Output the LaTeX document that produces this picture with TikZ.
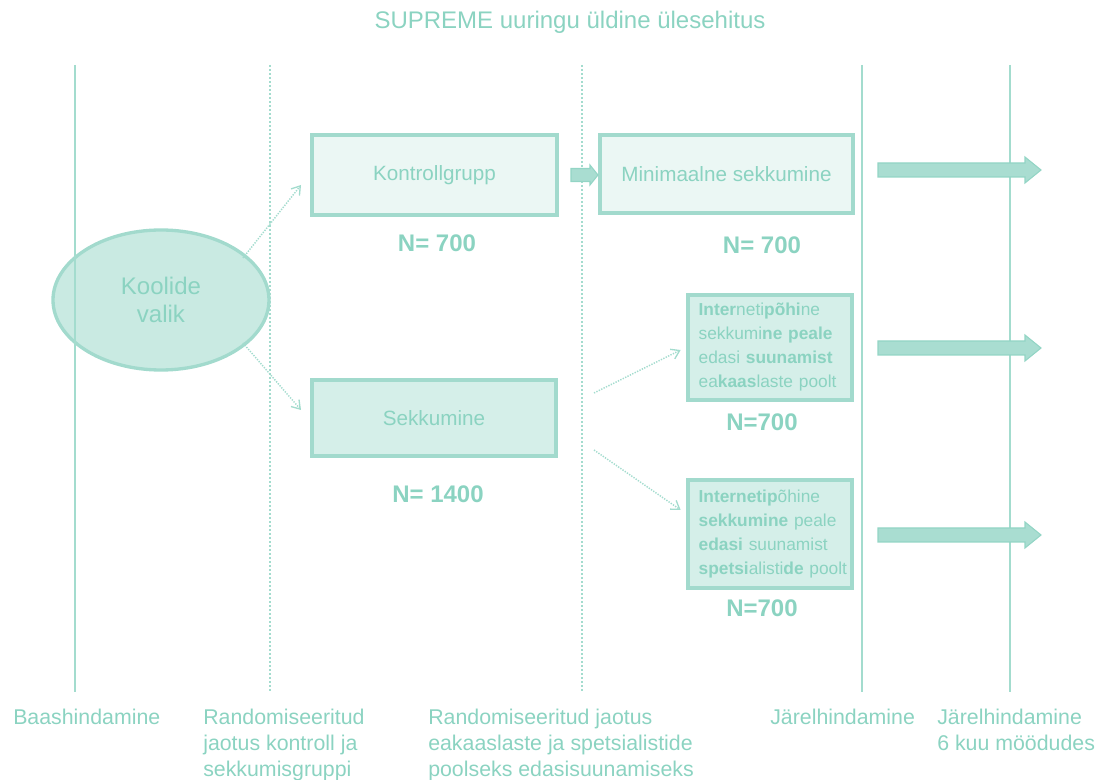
\documentclass[tikz,border=0pt]{standalone}
\usepackage{fontspec}
\setmainfont{Liberation Sans}
\usetikzlibrary{arrows.meta,shapes.geometric,calc}
\definecolor{tltext}{HTML}{8BD3C1}
\definecolor{tlline}{HTML}{A3DCCE}
\definecolor{tlborder}{HTML}{A2DACD}
\definecolor{fillA}{HTML}{EBF7F4}
\definecolor{fillB}{HTML}{D5EFE9}
\definecolor{fillE}{HTML}{C9EAE2}
\definecolor{arrfill}{HTML}{A9DDD1}
\definecolor{arrdraw}{HTML}{93D5C5}
\tikzset{
  vsolid/.style={draw=tlline, line width=2pt},
  vthin/.style={draw=tlline, line width=1.2pt},
  vdot/.style={draw=tlline, line width=1.8pt, dash pattern=on 1.6pt off 1.4pt},
  boxsty/.style={draw=tlborder, line width=3pt, text=tltext, inner sep=0pt,
    font=\fontsize{15.5}{19}\selectfont},
  smallbox/.style={draw=tlborder, line width=3.5pt, fill=fillB, text=tltext,
    align=left, text width=107pt, inner xsep=8pt, inner ysep=0pt,
    minimum width=123pt, font=\fontsize{13}{18}\selectfont},
  nlab/.style={text=tltext, font=\fontsize{18}{20}\selectfont\bfseries, inner sep=0pt},
  blab/.style={text=tltext, font=\fontsize{16}{19.5}\selectfont, align=left,
    anchor=north west, inner sep=0pt},
  conn/.style={draw=tlline, line width=1.1pt, dash pattern=on 1pt off 1pt,
    -{Straight Barb[length=6pt,width=8pt,line width=1pt]}},
  blockarrow/.style={fill=arrfill, draw=arrdraw, line width=0.8pt},
  bigarrow/.pic={\path[blockarrow] (0,-7) -- (147,-7) -- (147,-13) -- (163,0)
    -- (147,13) -- (147,7) -- (0,7) -- cycle;},
  smallarrow/.pic={\path[blockarrow] (0,-6.5) -- (19,-6.5) -- (19,-10) -- (27,0)
    -- (19,10) -- (19,6.5) -- (0,6.5) -- cycle;},
}
\begin{document}
\begin{tikzpicture}[x=0.75pt,y=-0.75pt]
\useasboundingbox (0,0) rectangle (1097,780);

% title
\node[text=tltext, font=\fontsize{18}{20}\selectfont, inner sep=0pt] (title) at (570,22)
  {SUPREME uuringu üldine ülesehitus};

% vertical lines
\coordinate (v1t) at (75,65);   \coordinate (v1b) at (75,692);
\coordinate (v2t) at (270,65);  \coordinate (v2b) at (270,692);
\coordinate (v3t) at (582,65);  \coordinate (v3b) at (582,692);
\coordinate (v4t) at (862,65);  \coordinate (v4b) at (862,692);
\coordinate (v5t) at (1010,65); \coordinate (v5b) at (1010,692);
\draw[vdot] (v2t) -- (v2b);
\draw[vdot] (v3t) -- (v3b);
\draw[vsolid] (v4t) -- (v4b);
\draw[vthin] (v5t) -- (v5b);

% ellipse
\node[ellipse, draw=tlborder, line width=2.5pt, fill=fillE, text=tltext,
  minimum width=162pt, minimum height=105pt, align=center,
  font=\fontsize{18}{21}\selectfont] (ell) at (161,300) {Koolide\\valik};
\draw[vsolid] (v1t) -- (v1b);

% boxes
\node[boxsty, fill=fillA, minimum width=183.75pt, minimum height=60pt]
  (kg) at (434.5,175) {Kontrollgrupp};
\node[boxsty, fill=fillA, minimum width=189.75pt, minimum height=58.5pt]
  (mins) at (726.5,174) {Minimaalne sekkumine};
\node[boxsty, fill=fillB, minimum width=183pt, minimum height=57pt]
  (sek) at (434,418) {Sekkumine};
\node[smallbox, minimum height=78.75pt] (peer) at (770,347.5)
  {\mbox{\textbf{Inter}neti\textbf{põhi}ne}\\
   \mbox{sekkumi\textbf{ne peale}}\\
   \mbox{edasi \textbf{suunamist}}\\
   \mbox{ea\textbf{kaas}laste poolt}};
\node[smallbox, minimum height=81pt] (spec) at (770,534)
  {\mbox{\textbf{Internetip}õhine}\\
   \mbox{\textbf{sekkumine} peale}\\
   \mbox{\textbf{edasi} suunamist}\\
   \mbox{\textbf{spetsi}alisti\textbf{de} poolt}};

% N labels
\node[nlab] (n1) at (437,243) {N= 700};
\node[nlab] (n2) at (762,245) {N= 700};
\node[nlab] (n3) at (762,422) {N=700};
\node[nlab] (n4) at (438,494) {N= 1400};
\node[nlab] (n5) at (762,608) {N=700};

% dotted connectors
\draw[conn] ($(ell.center)+(82,-42)$) -- ($(kg.west)+(-9,10)$);
\draw[conn] ($(ell.center)+(82,43)$) -- ($(sek.west)+(-9,-8)$);
\draw[conn] ($(sek.east)+(36,-25)$) -- ($(peer.west)+(-5,2.5)$);
\draw[conn] ($(sek.east)+(36,32)$) -- ($(spec.west)+(-5,-24)$);

% block arrows
\pic at ($(kg.east)+(12,0)$) {smallarrow};
\pic at (878,170) {bigarrow};
\pic at (878,348) {bigarrow};
\pic at (878,535) {bigarrow};

% bottom labels
\node[blab] (l1) at (13,709) {Baashindamine};
\node[blab] (l2) at (203,709) {Randomiseeritud\\jaotus kontroll ja\\sekkumisgruppi};
\node[blab] (l3) at (428,709) {Randomiseeritud jaotus\\eakaaslaste ja spetsialistide\\poolseks edasisuunamiseks};
\node[blab] (l4) at (770,709) {Järelhindamine};
\node[blab] (l5) at (937,709) {Järelhindamine\\6 kuu möödudes};
\end{tikzpicture}
\end{document}
